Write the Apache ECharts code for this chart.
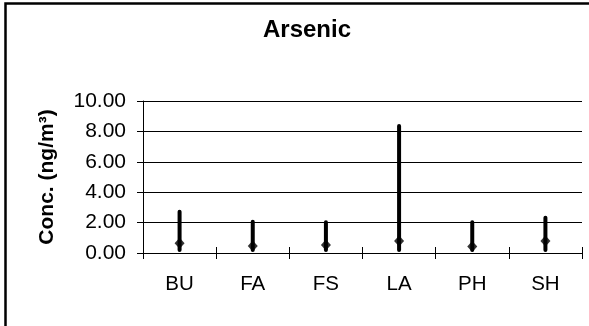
<!DOCTYPE html>
<html>
<head>
<meta charset="utf-8">
<script src="https://cdn.jsdelivr.net/npm/echarts@6/dist/echarts.min.js"></script>
<style>
html,body{margin:0;padding:0;background:#fff;}
#chart{width:589px;height:326px;}
</style>
</head>
<body>
<div id="chart"></div>
<script>
const categories = ['BU', 'FA', 'FS', 'LA', 'PH', 'SH'];
const maxValues  = [2.72, 2.06, 2.02, 8.36, 2.02, 2.32];
const meanValues = [0.64, 0.46, 0.53, 0.79, 0.42, 0.79];
const minValues  = [0.20, 0.20, 0.20, 0.20, 0.20, 0.20];
const yTicks = { min: 0, max: 10, interval: 2 };

const FONT = 'Liberation Sans, Arial, sans-serif';
const chart = echarts.init(document.getElementById('chart'), null, { renderer: 'canvas' });

const rangeData = categories.map((c, i) => [i, minValues[i], maxValues[i]]);

chart.setOption({
  animation: false,
  backgroundColor: '#fff',
  title: {
    text: 'Arsenic',
    left: 307,
    top: 18,
    textAlign: 'center',
    padding: 0,
    textStyle: { fontFamily: FONT, fontWeight: 'bold', fontSize: 24, color: '#000' }
  },
  grid: { left: 143, right: 7, top: 101, bottom: 73, containLabel: false },
  xAxis: [{
    type: 'category',
    data: categories,
    boundaryGap: true,
    axisLine: { show: true, lineStyle: { color: '#000', width: 1 } },
    axisTick: { show: true, alignWithLabel: false, length: 6, lineStyle: { color: '#000' } },
    axisLabel: { fontFamily: FONT, fontSize: 20.5, color: '#000', margin: 21 },
    splitLine: { show: false }
  }, {
    type: 'category',
    data: categories,
    position: 'bottom',
    boundaryGap: true,
    axisLine: { show: false },
    axisTick: { show: true, inside: true, length: 6, lineStyle: { color: '#000' } },
    axisLabel: { show: false },
    splitLine: { show: false }
  }],
  yAxis: {
    type: 'value',
    min: yTicks.min,
    max: yTicks.max,
    interval: yTicks.interval,
    name: 'Conc. (ng/m³)',
    nameLocation: 'middle',
    nameRotate: 90,
    nameGap: 85,
    nameTextStyle: { fontFamily: FONT, fontWeight: 'bold', fontSize: 21, color: '#000' },
    axisLine: { show: true, lineStyle: { color: '#000', width: 1 } },
    axisTick: { show: true, length: 6, lineStyle: { color: '#000' } },
    axisLabel: {
      fontFamily: FONT, fontSize: 21, color: '#000', margin: 17,
      formatter: v => v.toFixed(2)
    },
    splitLine: { show: true, lineStyle: { color: '#000', width: 1 } }
  },
  series: [{
    type: 'custom',
    data: rangeData,
    encode: { x: 0, y: [1, 2] },
    renderItem: function (params, api) {
      const x = api.value(0);
      const p1 = api.coord([x, api.value(1)]);
      const p2 = api.coord([x, api.value(2)]);
      return {
        type: 'line',
        shape: { x1: p1[0], y1: p1[1], x2: p2[0], y2: p2[1] },
        style: { stroke: '#000', lineWidth: 4, lineCap: 'round' }
      };
    },
    z: 3
  }, {
    type: 'scatter',
    data: meanValues.map((v, i) => [i, v]),
    symbol: 'diamond',
    symbolSize: [10, 11],
    itemStyle: { color: '#000' },
    z: 4
  }],
  graphic: [{
    type: 'polyline',
    shape: { points: [[5.5, 330], [5.5, 3.5], [595, 3.5]] },
    style: { stroke: '#000', lineWidth: 2.5, fill: null },
    silent: true
  }]
});
</script>
</body>
</html>
